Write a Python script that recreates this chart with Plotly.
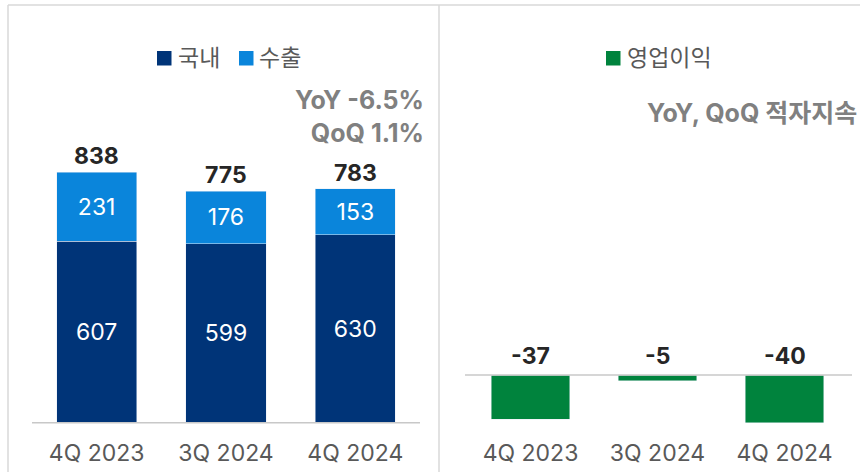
import plotly.graph_objects as go

# ---------------- data ----------------
categories = ["4Q 2023", "3Q 2024", "4Q 2024"]
domestic = [607, 599, 630]
export = [231, 176, 153]
totals = [838, 775, 783]
op_profit = [-37, -5, -40]
left_note = "YoY -6.5%<br>QoQ 1.1%"
right_note = "YoY, QoQ 적자지속"

# ---------------- style ----------------
W, H = 860, 472
NAVY = "#003478"
BLUE = "#0A85DB"
GREEN = "#00833D"
GRAY_TXT = "#595959"
NOTE_TXT = "#808080"
LINE = "#C8C8C8"
FRAME = "#D9D9D9"
FONT = "Inter, 'Noto Sans CJK KR', sans-serif"

def px_x(p):
    return p / W

def px_y(p):
    return 1 - p / H

# plot-area geometry (pixels)
Y_TOP, Y_BOT = 60, 432
L_BASE, L_SCALE = 422.7, 0.2987     # baseline pixel, px per unit
R_ZERO, R_SCALE = 375.0, 1.19

fig = go.Figure()

fig.add_trace(go.Bar(
    x=categories, y=domestic, name="국내", marker_color=NAVY,
    width=0.62, text=domestic, textposition="inside", insidetextanchor="middle",
    textangle=0, insidetextfont=dict(color="white", size=23, family=FONT),
    xaxis="x", yaxis="y", hoverinfo="skip",
))
fig.add_trace(go.Bar(
    x=categories, y=export, name="수출", marker_color=BLUE,
    width=0.62, text=export, textposition="inside", insidetextanchor="middle",
    textangle=0, insidetextfont=dict(color="white", size=23, family=FONT),
    xaxis="x", yaxis="y", hoverinfo="skip",
))
fig.add_trace(go.Bar(
    x=categories, y=op_profit, name="영업이익", marker_color=GREEN,
    width=0.62, xaxis="x2", yaxis="y2", hoverinfo="skip",
))

annotations = []
for c, t in zip(categories, totals):
    annotations.append(dict(x=c, y=t, xref="x", yref="y", text=f"<b>{t}</b>",
                            showarrow=False, yanchor="middle", yshift=16,
                            font=dict(size=23, color="#262626", family=FONT)))
for c, v in zip(categories, op_profit):
    annotations.append(dict(x=c, y=0, xref="x2", yref="y2", text=f"<b>{v}</b>",
                            showarrow=False, yanchor="middle", yshift=19,
                            font=dict(size=23, color="#262626", family=FONT)))

annotations.append(dict(x=px_x(426), y=px_y(116.5), xref="paper", yref="paper",
                        text=f"<b>{left_note}</b>", showarrow=False, xanchor="right",
                        yanchor="middle", align="right",
                        font=dict(size=25, color=NOTE_TXT, family=FONT)))
annotations.append(dict(x=px_x(859), y=px_y(113), xref="paper", yref="paper",
                        text=f"<b>{right_note}</b>", showarrow=False, xanchor="right",
                        yanchor="middle", align="right",
                        font=dict(size=25, color=NOTE_TXT, family=FONT)))

# legends (manual)
legend_items = [("국내", NAVY, 157, 178), ("수출", BLUE, 239, 259), ("영업이익", GREEN, 606, 627)]
shapes = []
for name, col, sx, tx in legend_items:
    shapes.append(dict(type="rect", xref="paper", yref="paper",
                       x0=px_x(sx), x1=px_x(sx + 14.5), y0=px_y(65.5), y1=px_y(51),
                       fillcolor=col, line=dict(width=0)))
    annotations.append(dict(x=px_x(tx - 2), y=px_y(58), xref="paper", yref="paper",
                            text=name, showarrow=False, xanchor="left", yanchor="middle",
                            font=dict(size=23, color=GRAY_TXT, family=FONT)))

# baselines
shapes.append(dict(type="line", xref="paper", yref="y", x0=px_x(32), x1=px_x(420),
                   y0=0, y1=0, line=dict(color=LINE, width=1.5)))
shapes.append(dict(type="line", xref="paper", yref="y2", x0=px_x(465), x1=px_x(852),
                   y0=0, y1=0, line=dict(color=LINE, width=1.5)))
# frame
shapes.append(dict(type="line", xref="paper", yref="paper", x0=px_x(8), x1=1,
                   y0=px_y(5), y1=px_y(5), line=dict(color=FRAME, width=1.5)))
shapes.append(dict(type="line", xref="paper", yref="paper", x0=px_x(8), x1=px_x(8),
                   y0=px_y(5), y1=0, line=dict(color=FRAME, width=1.5)))
shapes.append(dict(type="line", xref="paper", yref="paper", x0=px_x(439), x1=px_x(439),
                   y0=px_y(5), y1=0, line=dict(color=FRAME, width=1.5)))

axis_common = dict(showgrid=False, zeroline=False, showline=False, ticks="",
                   tickfont=dict(size=23, color=GRAY_TXT, family=FONT),
                   range=[-0.5, 2.5], fixedrange=True, ticklabelstandoff=5)
yaxis_common = dict(showgrid=False, zeroline=False, showline=False, showticklabels=False,
                    domain=[px_y(Y_BOT), px_y(Y_TOP)], fixedrange=True)

fig.update_layout(
    width=W, height=H, margin=dict(l=0, r=0, t=0, b=0),
    paper_bgcolor="white", plot_bgcolor="rgba(0,0,0,0)",
    barmode="stack", showlegend=False,
    font=dict(family=FONT),
    xaxis=dict(domain=[px_x(32), px_x(420)], anchor="y", **axis_common),
    xaxis2=dict(domain=[px_x(467), px_x(848)], anchor="y2", **axis_common),
    yaxis=dict(anchor="x",
               range=[-(Y_BOT - L_BASE) / L_SCALE, (L_BASE - Y_TOP) / L_SCALE],
               **yaxis_common),
    yaxis2=dict(anchor="x2",
                range=[-(Y_BOT - R_ZERO) / R_SCALE, (R_ZERO - Y_TOP) / R_SCALE],
                **yaxis_common),
    annotations=annotations, shapes=shapes,
    uniformtext=dict(minsize=10, mode="show"),
)

fig.write_html("out.html", config={"displayModeBar": False},
               post_script="document.body.style.margin='0';document.body.style.overflow='hidden';")
